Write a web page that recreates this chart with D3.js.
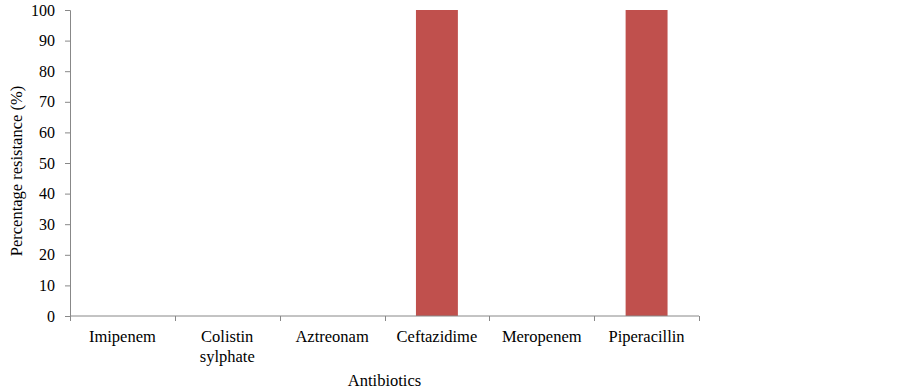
<!DOCTYPE html>
<html>
<head>
<meta charset="utf-8">
<script src="https://cdn.jsdelivr.net/npm/d3@7"></script>
<style>
  body { margin: 0; background: #fff; }
  svg text { font-family: "Liberation Serif", "Times New Roman", serif; fill: #000; }
</style>
</head>
<body>
<div id="chart"></div>
<script>
// Percentage resistance by antibiotic
const antibiotics = ['Imipenem', 'Colistin sylphate', 'Aztreonam', 'Ceftazidime', 'Meropenem', 'Piperacillin'];
const resistance = [0, 0, 0, 100, 0, 100];
const yTicks = [0, 10, 20, 30, 40, 50, 60, 70, 80, 90, 100];

const W = 903, H = 390;
const margin = {top: 10, right: 204, bottom: 74, left: 70};
const width = W - margin.left - margin.right;
const height = H - margin.top - margin.bottom;

const svg = d3.select('#chart').append('svg')
    .attr('width', W)
    .attr('height', H);

const g = svg.append('g')
    .attr('transform', `translate(${margin.left},${margin.top})`);

const x = d3.scaleBand()
    .domain(antibiotics)
    .range([0, width])
    .paddingInner(0.6)
    .paddingOuter(0.3);

// category boundaries for tick marks
const step = width / antibiotics.length;

const y = d3.scaleLinear()
    .domain([0, 100])
    .range([height, 0]);

// bars
g.selectAll('.bar')
    .data(antibiotics.map((name, i) => ({name, value: resistance[i]})))
    .enter()
    .append('rect')
    .attr('class', 'bar')
    .attr('x', d => x(d.name))
    .attr('y', d => y(d.value))
    .attr('width', x.bandwidth())
    .attr('height', d => height - y(d.value))
    .attr('fill', '#C0504D');

// y axis
const yAxis = g.append('g')
    .call(d3.axisLeft(y).tickValues(yTicks).tickSize(5).tickPadding(10));
yAxis.select('.domain').attr('stroke', '#888');
yAxis.selectAll('.tick line').attr('stroke', '#888');
yAxis.selectAll('.tick text').style('font-size', '16px');

// x axis line + boundary ticks
const xAxis = g.append('g').attr('transform', `translate(0,${height})`);
xAxis.append('line')
    .attr('x1', 0).attr('x2', width)
    .attr('stroke', '#888');
xAxis.selectAll('.bt')
    .data(d3.range(antibiotics.length + 1))
    .enter()
    .append('line')
    .attr('x1', i => Math.round(i * step) + 0.5)
    .attr('x2', i => Math.round(i * step) + 0.5)
    .attr('y1', 0).attr('y2', 5)
    .attr('stroke', '#888');

// category labels (wrapped)
xAxis.selectAll('.lbl')
    .data(antibiotics)
    .enter()
    .append('text')
    .attr('text-anchor', 'middle')
    .style('font-size', '16.5px')
    .each(function(d) {
        const cx = x(d) + x.bandwidth() / 2;
        const words = d === 'Colistin sylphate' ? ['Colistin', 'sylphate'] : [d];
        words.forEach((w, k) => {
            d3.select(this).append('tspan')
                .attr('x', cx)
                .attr('y', 26 + k * 20)
                .text(w);
        });
    });

// axis titles
svg.append('text')
    .attr('x', margin.left + width / 2)
    .attr('y', 386)
    .attr('text-anchor', 'middle')
    .style('font-size', '16.5px')
    .text('Antibiotics');

svg.append('text')
    .attr('transform', `translate(22,${margin.top + height / 2 + 8}) rotate(-90)`)
    .attr('text-anchor', 'middle')
    .style('font-size', '16.5px')
    .text('Percentage resistance (%)');
</script>
</body>
</html>
